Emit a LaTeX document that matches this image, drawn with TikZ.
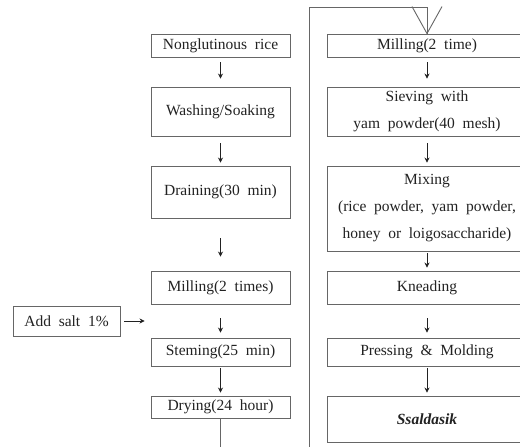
\documentclass[tikz,border=0pt]{standalone}
\usepackage{fontspec}
\setmainfont{Liberation Serif}
\usetikzlibrary{arrows.meta,calc}
\definecolor{boxgray}{HTML}{666666}
\definecolor{txt}{HTML}{222222}
\newcommand{\widesp}{\spaceskip=0.5em plus 0.1em\relax}
\begin{document}
\begin{tikzpicture}[x=1pt,y=-1pt,
  box/.style={draw=boxgray, line width=0.9pt, inner sep=0pt, align=center, text=txt,
    font=\fontsize{15.5}{27}\selectfont, execute at begin node=\widesp},
  lbox/.style={box, minimum width=139pt},
  rbox/.style={box, minimum width=200pt},
  arr/.style={draw=txt, line width=0.7pt, -{Stealth[length=5pt,width=5pt]}},
  loopline/.style={draw=boxgray, line width=0.9pt}]
\useasboundingbox (0,0) rectangle (520,447);
\clip (0,0) rectangle (520,447);
\fill[white] (0,0) rectangle (520,447);
% left column
\node[lbox, minimum height=23pt] (n1) at (220.5,45.5) {Nonglutinous rice};
\node[lbox, minimum height=49pt] (n2) at (220.5,111.5) {Washing/Soaking};
\node[lbox, minimum height=52pt] (n3) at (220.5,192) {Draining(30 min)};
\node[lbox, minimum height=33pt] (n4) at (220.5,287.5) {Milling(2 times)};
\node[lbox, minimum height=28pt] (n5) at (220.5,352) {Steming(25 min)};
\node[lbox, minimum height=22pt] (n6) at (220.5,407) {Drying(24 hour)};
\node[box, minimum width=107pt, minimum height=30pt] (salt) at (66.5,321) {Add salt 1\%};
% right column
\node[rbox, minimum height=23pt] (r1) at (427,45.5) {Milling(2 time)};
\node[rbox, minimum height=49pt] (r2) at (427,111.5) {Sieving with\\yam powder(40 mesh)};
\node[rbox, minimum height=85pt] (r3) at (427,208.5) {Mixing\\(rice powder, yam powder,\\honey or loigosaccharide)};
\node[rbox, minimum height=33pt] (r4) at (427,287.5) {Kneading};
\node[rbox, minimum height=28pt] (r5) at (427,352) {Pressing \& Molding};
\node[rbox, minimum height=46pt] (r6) at (427,419) {\textbf{\textit{Ssaldasik}}};
% left arrows
\draw[arr, shorten <=5pt, shorten >=8pt] (n1) -- (n2);
\draw[arr, shorten <=7pt, shorten >=3pt] (n2) -- (n3);
\draw[arr, shorten <=20pt, shorten >=14pt] (n3) -- (n4);
\draw[arr, shorten <=14pt, shorten >=5pt] (n4) -- (n5);
\draw[arr, shorten <=2pt, shorten >=3pt] (n5) -- (n6);
\draw[arr, shorten <=4pt, shorten >=6pt] (salt.east) -- (salt.east -| n4.west);
% right arrows
\draw[arr, shorten <=5pt, shorten >=8pt] (r1) -- (r2);
\draw[arr, shorten <=7pt, shorten >=3pt] (r2) -- (r3);
\draw[arr, shorten <=2pt, shorten >=3pt] (r3) -- (r4);
\draw[arr, shorten <=14pt, shorten >=5pt] (r4) -- (r5);
\draw[arr, shorten <=2pt, shorten >=3pt] (r5) -- (r6);
% loop connector
\coordinate (low) at (220.5,470);
\coordinate (side) at (309,7);
\draw[loopline] (n6.south) -- (low) -| (side) -| (r1.north);
\draw[loopline] ($(r1.north)+(-15,-27)$) -- (r1.north) -- ($(r1.north)+(15,-27)$);
\end{tikzpicture}
\end{document}
